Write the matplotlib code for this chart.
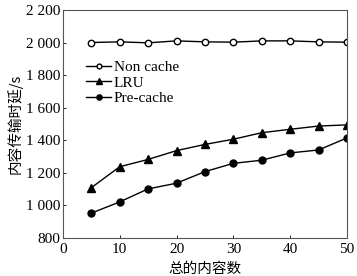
import numpy as np
import matplotlib
matplotlib.use('Agg')
import matplotlib.pyplot as plt

x = [5, 10, 15, 20, 25, 30, 35, 40, 45, 50]
non_cache = [2000, 2004, 1998, 2010, 2004, 2002, 2010, 2010, 2004, 2002]
lru = [1108, 1237, 1282, 1336, 1374, 1406, 1446, 1467, 1487, 1494]
pre_cache = [952, 1021, 1101, 1136, 1207, 1258, 1277, 1322, 1340, 1414]

yticks = [800, 1000, 1200, 1400, 1600, 1800, 2000, 2200]
ytick_labels = ['800', '1 000', '1 200', '1 400', '1 600', '1 800', '2 000', '2 200']
xticks = [0, 10, 20, 30, 40, 50]

serif = 'Liberation Serif'
cjk = ['Noto Sans CJK SC', 'DejaVu Sans']

fig = plt.figure(figsize=(3.57, 2.76), dpi=100)
ax = fig.add_axes([0.176, 0.138, 0.796, 0.826])

ax.plot(x, non_cache, color='black', lw=1.0, marker='o', ms=4.6,
        mfc='white', mec='black', mew=1.0, label='Non cache')
ax.plot(x, lru, color='black', lw=1.0, marker='^', ms=5.5, label='LRU')
ax.plot(x, pre_cache, color='black', lw=1.0, marker='o', ms=5, label='Pre-cache')

ax.set_xlim(0, 50)
ax.set_ylim(800, 2200)
ax.set_xticks(xticks)
ax.set_xticklabels([str(v) for v in xticks], fontfamily=serif, fontsize=11)
ax.set_yticks(yticks)
ax.set_yticklabels(ytick_labels, fontfamily=serif, fontsize=11)
ax.tick_params(direction='in', length=2, width=0.6, colors='black')
ax.tick_params(axis='x', pad=4)
ax.tick_params(axis='y', pad=2)
for s in ax.spines.values():
    s.set_color('#555555')
    s.set_linewidth(0.8)

ax.set_xlabel('总的内容数', family=cjk, fontsize=10.5, labelpad=4)
ax.set_ylabel('内容传输时延/s', family=cjk, fontsize=10.5, labelpad=2)

ax.legend(loc='upper left', bbox_to_anchor=(0.083, 0.777), frameon=False,
          prop={'family': serif, 'size': 11}, handlelength=1.6,
          handletextpad=0.2, labelspacing=0.1, borderaxespad=0,
          borderpad=0, markerscale=0.75)

fig.savefig('out.png', dpi=100)
